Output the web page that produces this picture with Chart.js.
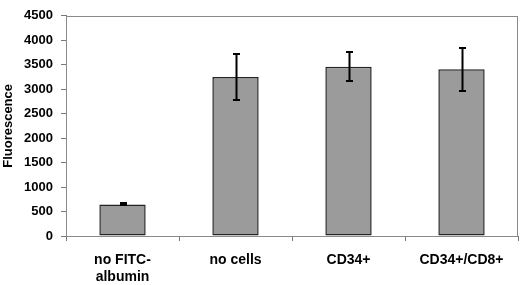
<!DOCTYPE html>
<html>
<head>
<meta charset="utf-8">
<script src="https://cdn.jsdelivr.net/npm/chart.js@4"></script>
<style>
html,body{margin:0;padding:0;background:#fff;}
#wrap{width:520px;height:285px;position:relative;}
</style>
</head>
<body>
<div id="wrap"><canvas id="c" width="520" height="285"></canvas></div>
<script>
const categories = [["no FITC-", "albumin"], "no cells", "CD34+", "CD34+/CD8+"];
const fluorescence = [645, 3250, 3460, 3410];
const errLow = [628, 2785, 3165, 2960];
const errHigh = [665, 3720, 3760, 3850];
const yTicks = [0, 500, 1000, 1500, 2000, 2500, 3000, 3500, 4000, 4500];

const errorBars = {
  id: 'errorBars',
  afterDatasetsDraw(chart) {
    const ctx = chart.ctx, x = chart.scales.x, y = chart.scales.y;
    ctx.save();
    ctx.strokeStyle = '#000';
    ctx.lineWidth = 2;
    fluorescence.forEach((v, i) => {
      const cx = Math.round(x.getPixelForValue(i)) + 0.5;
      const t = Math.round(y.getPixelForValue(errHigh[i]));
      const b = Math.round(y.getPixelForValue(errLow[i]));
      ctx.beginPath();
      ctx.moveTo(cx, t); ctx.lineTo(cx, b);
      ctx.moveTo(cx - 3.5, t); ctx.lineTo(cx + 3.5, t);
      ctx.moveTo(cx - 3.5, b); ctx.lineTo(cx + 3.5, b);
      ctx.stroke();
    });
    ctx.restore();
  }
};
const frame = {
  id: 'frame',
  beforeDatasetsDraw(chart) {
    const a = chart.chartArea, ctx = chart.ctx;
    ctx.save();
    ctx.strokeStyle = '#8a8a8a';
    ctx.lineWidth = 1;
    ctx.strokeRect(Math.round(a.left) + 0.5, Math.round(a.top) + 0.5, Math.round(a.right - a.left) - 1, Math.round(a.bottom - a.top));
    ctx.restore();
  }
};

new Chart(document.getElementById('c'), {
  type: 'bar',
  data: {
    labels: categories,
    datasets: [{
      data: fluorescence,
      backgroundColor: '#9b9b9b',
      borderColor: '#222',
      borderWidth: 1.5,
      borderSkipped: false,
      categoryPercentage: 1,
      barPercentage: 0.41
    }]
  },
  options: {
    responsive: false,
    animation: false,
    devicePixelRatio: 1,
    layout: { padding: { top: 6, right: 2, left: 0, bottom: 0 } },
    plugins: { legend: { display: false }, tooltip: { enabled: false } },
    scales: {
      x: {
        offset: true,
        grid: { offset: true, drawOnChartArea: false, drawTicks: true, tickLength: 5, color: '#777' },
        border: { color: '#777', width: 1 },
        ticks: { color: '#000', font: { family: 'Liberation Sans, Arial', size: 14, weight: 'bold', lineHeight: 1.2 }, padding: 11, maxRotation: 0, autoSkip: false },
        afterFit(s) { s.height = 49; }
      },
      y: {
        min: 0, max: 4500,
        afterBuildTicks(s) { s.ticks = yTicks.map(v => ({ value: v })); },
        grid: { drawOnChartArea: false, drawTicks: true, tickLength: 5, color: '#777' },
        border: { color: '#777', width: 1 },
        ticks: { color: '#000', font: { family: 'Liberation Sans, Arial', size: 13, weight: 'bold' }, padding: 8, callback: (v) => String(v) },
        title: { display: true, text: 'Fluorescence', color: '#000', font: { family: 'Liberation Sans, Arial', size: 13, weight: 'bold' }, padding: { top: 1, bottom: 0 } },
        afterFit(s) { s.width = 66; }
      }
    }
  },
  plugins: [frame, errorBars]
});
</script>
</body>
</html>
